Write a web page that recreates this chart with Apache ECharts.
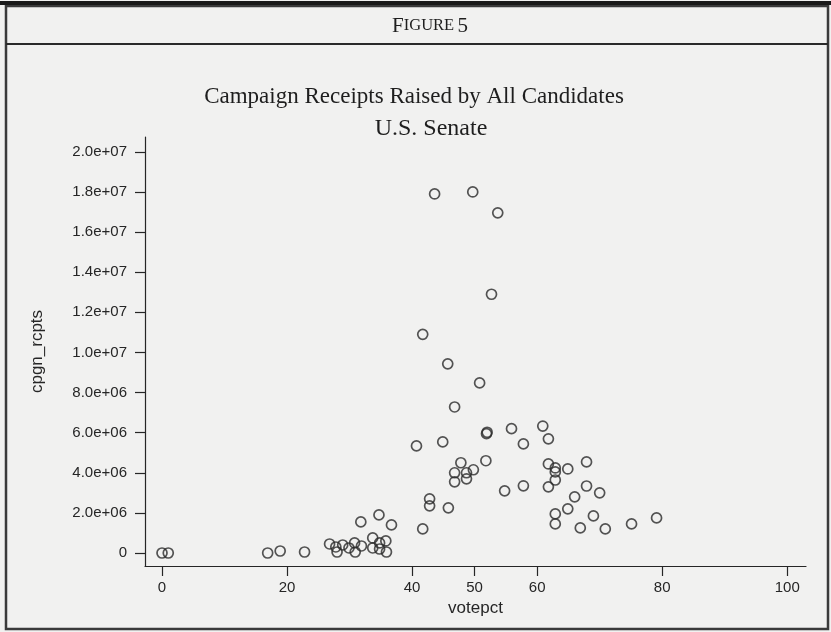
<!DOCTYPE html>
<html>
<head>
<meta charset="utf-8">
<script src="https://cdn.jsdelivr.net/npm/echarts@6/dist/echarts.min.js"></script>
<style>
  html, body { margin: 0; padding: 0; background: #f1f1f0; }
  #chart { width: 831px; height: 632px; }
</style>
</head>
<body>
<div id="chart"></div>
<script>
// Vote share (%) of each Senate candidate
const votePct = [
  0, 1.0, 16.9, 18.9, 22.8, 26.8, 27.8, 28.0, 28.9, 29.9,
  30.8, 30.9, 31.9, 31.8, 34.7, 36.7, 33.7, 33.7, 34.8, 35.8,
  34.8, 35.9, 41.7, 42.8, 42.8, 45.8, 40.7, 44.9, 51.9, 52.0,
  47.8, 46.8, 46.8, 48.7, 48.7, 49.8, 51.8, 54.8, 57.8, 55.9,
  60.9, 57.8, 61.8, 61.8, 62.9, 62.9, 62.9, 61.8, 64.9, 67.9,
  67.9, 70.0, 66.0, 64.9, 62.9, 62.9, 69.0, 66.9, 70.9, 75.1,
  79.1, 43.6, 49.7, 53.7, 52.7, 41.7, 45.7, 50.8, 46.8
];

// Campaign receipts (dollars) of the same candidates
const receipts = [
  0, 0, 0, 100000, 50000, 450000, 300000, 50000, 400000, 250000,
  500000, 50000, 350000, 1550000, 1900000, 1400000, 750000, 250000, 500000, 600000,
  200000, 50000, 1200000, 2700000, 2350000, 2250000, 5340000, 5540000, 5950000, 6020000,
  4500000, 4000000, 3550000, 4000000, 3700000, 4150000, 4600000, 3100000, 3350000, 6200000,
  6330000, 5440000, 5690000, 4440000, 4240000, 4040000, 3640000, 3300000, 4190000, 4540000,
  3340000, 3000000, 2800000, 2200000, 1950000, 1450000, 1850000, 1250000, 1200000, 1450000,
  1750000, 17900000, 18000000, 16960000, 12900000, 10900000, 9430000, 8480000, 7280000
];

// Axis tick positions
const xTicks = [0, 20, 40, 50, 60, 80, 100];
const yTicks = [0, 2e6, 4e6, 6e6, 8e6, 1e7, 1.2e7, 1.4e7, 1.6e7, 1.8e7, 2e7];

const points = votePct.map((v, i) => [v, receipts[i]]);

const ink = '#262626';
const sans = '"Liberation Sans", Arial, Helvetica, sans-serif';
const serif = '"Liberation Serif", "Times New Roman", serif';

// Stata-style scientific labels: 2.0e+07
function sci(v) {
  if (v === 0) return '0';
  return v.toExponential(1).replace(/e([+-])(\d)$/, 'e$10$2');
}

const chart = echarts.init(document.getElementById('chart'));
chart.setOption({
  backgroundColor: '#f1f1f0',
  animation: false,
  grid: { left: 145, right: 25, top: 137, bottom: 66, containLabel: false },
  xAxis: {
    type: 'value',
    min: -2.72,
    max: 103.0,
    name: 'votepct',
    nameLocation: 'middle',
    nameGap: 34,
    nameTextStyle: { color: ink, fontFamily: sans, fontSize: 17 },
    axisLine: { show: true, onZero: false, lineStyle: { color: ink, width: 1.2 } },
    axisTick: { show: true, inside: false, length: 10, customValues: xTicks, lineStyle: { color: ink, width: 1.2 } },
    axisLabel: { customValues: xTicks, color: ink, fontFamily: sans, fontSize: 15, margin: 14 },
    splitLine: { show: false }
  },
  yAxis: {
    type: 'value',
    min: -648000,
    max: 20740000,
    name: 'cpgn_rcpts',
    nameLocation: 'middle',
    nameGap: 99,
    nameRotate: 90,
    nameTextStyle: { color: ink, fontFamily: sans, fontSize: 17 },
    axisLine: { show: true, onZero: false, lineStyle: { color: ink, width: 1.2 } },
    axisTick: { show: true, inside: false, length: 10, customValues: yTicks, lineStyle: { color: ink, width: 1.2 } },
    axisLabel: { customValues: yTicks, color: ink, fontFamily: sans, fontSize: 15, margin: 18, formatter: sci },
    splitLine: { show: false }
  },
  series: [{
    type: 'scatter',
    data: points,
    symbol: 'circle',
    symbolSize: 10,
    itemStyle: { color: 'rgba(0,0,0,0)', borderColor: '#2b2b2b', borderWidth: 1.7 },
    emphasis: { disabled: true }
  }],
  graphic: [
    // page frame
    { type: 'rect', shape: { x: 6, y: 6, width: 822, height: 623 },
      style: { fill: 'none', stroke: '#3a3a3a', lineWidth: 2.5 }, silent: true },
    { type: 'line', shape: { x1: 0, y1: 3, x2: 831, y2: 3 },
      style: { stroke: '#1a1a1a', lineWidth: 4 }, silent: true },
    { type: 'line', shape: { x1: 6, y1: 44, x2: 828, y2: 44 },
      style: { stroke: '#2a2a2a', lineWidth: 2 }, silent: true },
    // figure number in small caps
    { type: 'text', x: 430, y: 26, silent: true,
      style: {
        text: '{b|F}{s|IGURE} {b|5}',
        align: 'center', verticalAlign: 'middle', fill: '#1e1e1e',
        rich: {
          b: { fontFamily: serif, fontSize: 21, fill: '#1e1e1e' },
          s: { fontFamily: serif, fontSize: 16.5, fill: '#1e1e1e' }
        }
      } },
    { type: 'text', x: 414, y: 97, silent: true,
      style: { text: 'Campaign Receipts Raised by All Candidates', align: 'center', verticalAlign: 'middle',
        fontFamily: serif, fontSize: 23, fill: '#1e1e1e' } },
    { type: 'text', x: 431, y: 129, silent: true,
      style: { text: 'U.S. Senate', align: 'center', verticalAlign: 'middle',
        fontFamily: serif, fontSize: 24, fill: '#1e1e1e' } }
  ]
});
</script>
</body>
</html>
